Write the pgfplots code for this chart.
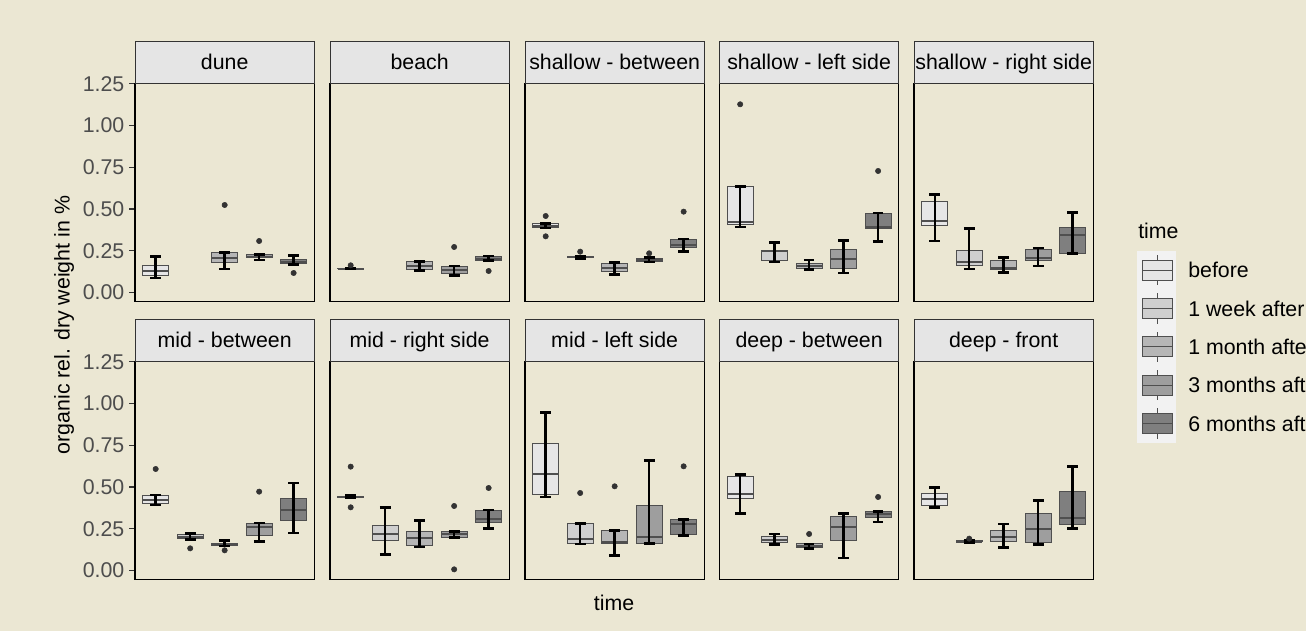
\documentclass[border=0pt]{standalone}
\usepackage{fontspec}
\setmainfont{Liberation Sans}
\usepackage{pgfplots}
\pgfplotsset{compat=1.18}
\usepgfplotslibrary{statistics}
\definecolor{bgc}{HTML}{EBE7D3}
\definecolor{stripc}{HTML}{E5E5E5}
\definecolor{stripb}{HTML}{333333}
\definecolor{boxc}{HTML}{4F4F4F}
\definecolor{ptc}{HTML}{333333}
\definecolor{tickc}{HTML}{4D4D4D}
\definecolor{keybg}{HTML}{F2F2F2}
\definecolor{f1}{HTML}{E6E6E6}
\definecolor{f2}{HTML}{CFCFCF}
\definecolor{f3}{HTML}{B6B6B6}
\definecolor{f4}{HTML}{9E9E9E}
\definecolor{f5}{HTML}{7F7F7F}
\newcommand\fs{\fontsize{16}{19}\selectfont}
\newcommand\bx[7]{%
 \addplot[boxplot prepared={draw position=#1, lower whisker=#2, lower quartile=#3, median=#4, upper quartile=#5, upper whisker=#6, box extend=0.75, whisker extend=0},
   boxplot/every whisker/.style={draw=none},
   boxplot/every median/.style={draw=boxc, line width=1.5pt},
   draw=boxc, line width=0.75pt, fill=#7] coordinates {};
 \addplot[boxplot prepared={draw position=#1, lower whisker=#2, lower quartile=#2, median=#2, upper quartile=#2, upper whisker=#6, box extend=0, whisker extend=0.31},
   boxplot/every box/.style={draw=none},
   boxplot/every median/.style={draw=none},
   boxplot/every whisker/.style={draw=black, line width=1.8pt},
   draw=none] coordinates {};
}
\newcommand\ol[1]{\addplot[only marks, mark=*, mark size=2pt, color=ptc] coordinates {#1};}
\newcommand\strip[1]{\node[fill=stripc, draw=stripb, line width=0.6pt, anchor=south,
     minimum width=134.5pt, minimum height=31.5pt, inner sep=0pt,
     text height=11.5pt, text depth=0pt, font=\fs] at (rel axis cs:0.5,1) {#1};}
\pgfplotsset{
 panel/.style={scale only axis, width=134.5pt, height=163.8pt,
   xmin=0.4, xmax=5.6, ymin=-0.0564, ymax=1.2537,
   xtick=\empty, ytick=\empty, clip=false,
   axis line style={black, line width=0.9pt},
   boxplot/draw direction=y,
   anchor=south west},
 lefty/.style={ytick={0,0.25,0.5,0.75,1,1.25},
   yticklabels={0.00,0.25,0.50,0.75,1.00,1.25},
   ytick pos=left, tick align=outside, major tick length=4.5pt,
   tick style={color=stripb, line width=0.8pt},
   yticklabel style={font=\fs, color=tickc},
   /pgf/number format/assume math mode=true}
}
\begin{document}
\begin{tikzpicture}
\useasboundingbox (0,0) rectangle (979.5pt,-473.25pt);
\clip (0,0) rectangle (979.5pt,-473.25pt);
\fill[bgc] (0,0) rectangle (979.5pt,-473.25pt);

% ---------- top row ----------
\begin{axis}[panel, lefty, at={(101.25pt,-226.3pt)}]
\bx{1}{0.086}{0.102}{0.130}{0.158}{0.214}{f1}
\bx{3}{0.140}{0.176}{0.208}{0.236}{0.238}{f3}
\bx{4}{0.194}{0.206}{0.214}{0.224}{0.226}{f4}
\bx{5}{0.168}{0.170}{0.182}{0.194}{0.220}{f5}
\ol{(3,0.524) (4,0.308) (5,0.116)}
\strip{dune}
\end{axis}

\begin{axis}[panel, at={(247.5pt,-226.3pt)}]
\bx{1}{0.140}{0.141}{0.142}{0.143}{0.145}{f1}
\bx{3}{0.132}{0.138}{0.160}{0.182}{0.184}{f3}
\bx{4}{0.100}{0.110}{0.134}{0.154}{0.158}{f4}
\bx{5}{0.190}{0.190}{0.202}{0.214}{0.218}{f5}
\ol{(1,0.162) (4,0.272) (5,0.128)}
\strip{beach}
\end{axis}

\begin{axis}[panel, at={(393.75pt,-226.3pt)}]
\bx{1}{0.386}{0.386}{0.400}{0.412}{0.414}{f1}
\bx{2}{0.204}{0.208}{0.212}{0.215}{0.216}{f2}
\bx{3}{0.108}{0.126}{0.148}{0.170}{0.178}{f3}
\bx{4}{0.182}{0.184}{0.194}{0.204}{0.210}{f4}
\bx{5}{0.244}{0.270}{0.285}{0.318}{0.320}{f5}
\ol{(1,0.458) (1,0.336) (2,0.244) (4,0.234) (5,0.484)}
\strip{shallow - between}
\end{axis}

\begin{axis}[panel, at={(539.6pt,-226.3pt)}]
\bx{1}{0.392}{0.404}{0.420}{0.634}{0.636}{f1}
\bx{2}{0.182}{0.192}{0.245}{0.252}{0.300}{f2}
\bx{3}{0.138}{0.142}{0.158}{0.172}{0.194}{f3}
\bx{4}{0.116}{0.140}{0.202}{0.258}{0.312}{f4}
\bx{5}{0.304}{0.384}{0.390}{0.474}{0.476}{f5}
\ol{(1,1.128) (5,0.728)}
\strip{shallow - left side}
\end{axis}

\begin{axis}[panel, at={(685.5pt,-226.3pt)}]
\bx{1}{0.308}{0.398}{0.430}{0.542}{0.586}{f1}
\bx{2}{0.140}{0.162}{0.180}{0.252}{0.382}{f2}
\bx{3}{0.120}{0.138}{0.145}{0.190}{0.208}{f3}
\bx{4}{0.158}{0.192}{0.206}{0.256}{0.266}{f4}
\bx{5}{0.232}{0.232}{0.342}{0.386}{0.480}{f5}
\strip{shallow - right side}
\end{axis}

% ---------- bottom row ----------
\begin{axis}[panel, lefty, at={(101.25pt,-434.8pt)}]
\bx{1}{0.392}{0.398}{0.424}{0.448}{0.452}{f1}
\bx{2}{0.186}{0.188}{0.200}{0.212}{0.220}{f2}
\bx{3}{0.146}{0.148}{0.154}{0.160}{0.180}{f3}
\bx{4}{0.174}{0.210}{0.260}{0.282}{0.284}{f4}
\bx{5}{0.224}{0.296}{0.360}{0.428}{0.524}{f5}
\ol{(1,0.608) (2,0.132) (3,0.120) (4,0.472)}
\strip{mid - between}
\end{axis}

\begin{axis}[panel, at={(247.5pt,-434.8pt)}]
\bx{1}{0.436}{0.439}{0.442}{0.445}{0.448}{f1}
\bx{2}{0.096}{0.178}{0.220}{0.266}{0.378}{f2}
\bx{3}{0.140}{0.148}{0.194}{0.232}{0.300}{f3}
\bx{4}{0.196}{0.198}{0.218}{0.232}{0.234}{f4}
\bx{5}{0.252}{0.284}{0.308}{0.360}{0.362}{f5}
\ol{(1,0.622) (1,0.378) (4,0.386) (4,0.006) (5,0.494)}
\strip{mid - right side}
\end{axis}

\begin{axis}[panel, at={(393.75pt,-434.8pt)}]
\bx{1}{0.440}{0.452}{0.578}{0.758}{0.946}{f1}
\bx{2}{0.158}{0.158}{0.188}{0.280}{0.282}{f2}
\bx{3}{0.090}{0.160}{0.172}{0.236}{0.238}{f3}
\bx{4}{0.162}{0.162}{0.198}{0.386}{0.660}{f4}
\bx{5}{0.210}{0.216}{0.280}{0.302}{0.306}{f5}
\ol{(2,0.464) (3,0.504) (5,0.624)}
\strip{mid - left side}
\end{axis}

\begin{axis}[panel, at={(539.6pt,-434.8pt)}]
\bx{1}{0.340}{0.430}{0.458}{0.564}{0.576}{f1}
\bx{2}{0.154}{0.164}{0.184}{0.200}{0.218}{f2}
\bx{3}{0.132}{0.136}{0.148}{0.158}{0.158}{f3}
\bx{4}{0.074}{0.176}{0.260}{0.322}{0.342}{f4}
\bx{5}{0.290}{0.314}{0.336}{0.354}{0.354}{f5}
\ol{(3,0.218) (5,0.440)}
\strip{deep - between}
\end{axis}

\begin{axis}[panel, at={(685.5pt,-434.8pt)}]
\bx{1}{0.378}{0.386}{0.430}{0.462}{0.496}{f1}
\bx{2}{0.166}{0.170}{0.172}{0.176}{0.178}{f2}
\bx{3}{0.138}{0.174}{0.202}{0.236}{0.278}{f3}
\bx{4}{0.156}{0.168}{0.246}{0.338}{0.420}{f4}
\bx{5}{0.250}{0.272}{0.314}{0.472}{0.624}{f5}
\ol{(2,0.190)}
\strip{deep - front}
\end{axis}

% ---------- axis titles ----------
\node[font=\fs, rotate=90] at (48pt,-243.75pt) {organic rel. dry weight in \%};
\node[font=\fs] at (460.5pt,-452.25pt) {time};

% ---------- legend ----------
\node[font=\fs, anchor=west, inner sep=0pt] at (853.5pt,-173.25pt) {time};
\fill[keybg] (852.75pt,-188.25pt) rectangle (882pt,-332.25pt);
\foreach \c/\y/\t in {f1/-202.65/before, f2/-231.4/1 week after, f3/-260.1/1 month after, f4/-288.9/3 months after, f5/-317.6/6 months after}{
  \draw[boxc, line width=0.6pt] (867.9pt,\y pt+7.4pt) -- (867.9pt,\y pt+11.4pt);
  \draw[boxc, line width=0.6pt] (867.9pt,\y pt-7.4pt) -- (867.9pt,\y pt-11.4pt);
  \draw[boxc, line width=0.7pt, fill=\c] (856.7pt,\y pt-7.4pt) rectangle (879pt,\y pt+7.4pt);
  \draw[boxc, line width=1pt] (856.7pt,\y pt) -- (879pt,\y pt);
  \node[font=\fs, anchor=west, inner sep=0pt] at (891pt,\y pt) {\t};
}
\end{tikzpicture}
\end{document}
